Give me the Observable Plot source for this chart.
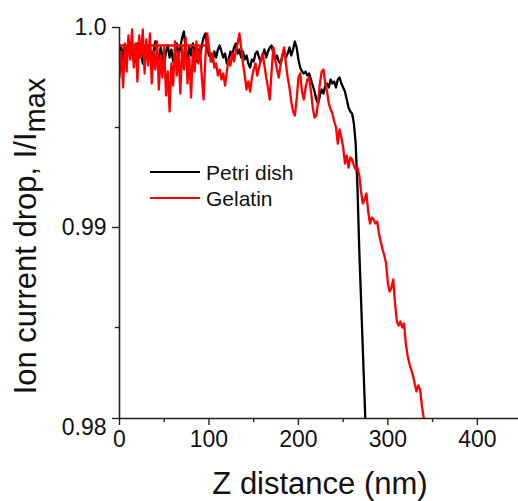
<!DOCTYPE html>
<html><head><meta charset="utf-8">
<script src="https://cdn.jsdelivr.net/npm/d3@7"></script>
<script src="https://cdn.jsdelivr.net/npm/@observablehq/plot@0.6"></script>
<style>body{margin:0;background:#fff} svg{font-family:"Liberation Sans",Arial,sans-serif}</style>
</head><body><div id="chart"></div>
<script>
// Petri dish (black)
const petriX = [0,2,4,6,8,10,12,14,16,18,20,22,24,26,28,30,32,34,36,38,40,42,44,46,48,50,52,54,56,58,60,62,64,66,68,70,72,74,76,78,80,82,84,86,88,90,92,94,96,98,100,102,104,106,108,110,112,114,116,118,120,122,124,126,128,130,132,134,136,138,140,142,144,146,148,150,152,154,156,158,160,162,164,166,168,170,172,174,176,178,180,182,184,186,188,190,192,194,196,198,200,202,204,206,208,210,212,214,216,218,220,222,224,226,228,230,232,234,236,238,240,242,244,246,248,250,252,254,256,258,260,262,264,266,268,270,272,274,276];
const petriY = [0.9986,0.9990,0.9984,0.9991,0.9987,0.9993,0.9986,0.9989,0.9983,0.9990,
0.9992,0.9985,0.9988,0.9982,0.9989,0.9991,0.9986,0.9990,0.9984,0.9988,
0.9993,0.9987,0.9984,0.9990,0.9986,0.9982,0.9988,0.9991,0.9985,0.9989,
0.9983,0.9987,0.9992,0.9986,0.9990,0.9995,0.9998,0.9989,0.9984,0.9990,
0.9986,0.9992,0.9987,0.9983,0.9989,0.9985,0.9991,0.9995,0.9997,0.9990,
0.9986,0.9987,0.9983,0.9988,0.9985,0.9989,0.9991,0.9988,0.9985,0.9987,
0.9982,0.9984,0.9988,0.9986,0.9990,0.9992,0.9987,0.9989,0.9985,0.9988,
0.9984,0.9986,0.9982,0.9980,0.9984,0.9983,0.9987,0.9988,0.9985,0.9983,
0.9986,0.9989,0.9985,0.9988,0.9990,0.9991,0.9987,0.9984,0.9986,0.9983,
0.9982,0.9986,0.9988,0.9985,0.9987,0.9990,0.9986,0.9989,0.9993,0.9990,
0.9984,0.9980,0.9978,0.9977,0.9978,0.9976,0.9977,0.9974,0.9971,0.9968,
0.9964,0.9962,0.9966,0.9969,0.9967,0.9971,0.9972,0.9970,0.9974,0.9972,
0.9973,0.9970,0.9974,0.9975,0.9972,0.9970,0.9968,0.9964,0.9960,0.9958,
0.9957,0.9952,0.9942,0.9920,0.9889,0.9864,0.9839,0.9814,0.9789];

// Gelatin (red)
const gelatinX = [0,2,4,6,8,10,12,14,16,18,20,22,24,26,28,30,32,34,36,38,40,42,44,46,48,50,52,54,56,58,60,62,64,66,68,70,72,74,76,78,80,82,84,86,88,90,92,94,96,98,100,102,104,106,108,110,112,114,116,118,120,122,124,126,128,130,132,134,136,138,140,142,144,146,148,150,152,154,156,158,160,162,164,166,168,170,172,174,176,178,180,182,184,186,188,190,192,194,196,198,200,202,204,206,208,210,212,214,216,218,220,222,224,226,228,230,232,234,236,238,240,242,244,246,248,250,252,254,256,258,260,262,264,266,268,270,272,274,276,278,280,282,284,286,288,290,292,294,296,298,300,302,304,306,308,310,312,314,316,318,320,322,324,326,328,330,332,334,336,338,340,342,344];
const gelatinY = [0.9975,0.9988,0.9970,0.9992,0.9978,0.9996,0.9984,0.9999,0.9980,0.9992,
0.9973,0.9996,0.9985,0.9999,0.9977,0.9994,0.9981,0.9997,0.9972,0.9988,
0.9979,0.9993,0.9969,0.9986,0.9975,0.9990,0.9966,0.9978,0.9958,0.9982,
0.9971,0.9993,0.9976,0.9988,0.9967,0.9990,0.9979,0.9995,0.9972,0.9985,
0.9965,0.9989,0.9978,0.9993,0.9982,0.9990,0.9975,0.9964,0.9985,0.9997,
0.9990,0.9983,0.9987,0.9980,0.9982,0.9976,0.9979,0.9974,0.9977,0.9971,
0.9978,0.9984,0.9981,0.9987,0.9983,0.9988,0.9992,0.9997,0.9990,0.9982,
0.9976,0.9969,0.9973,0.9968,0.9975,0.9979,0.9982,0.9976,0.9980,0.9984,
0.9987,0.9981,0.9975,0.9970,0.9964,0.9978,0.9990,0.9984,0.9979,0.9975,
0.9981,0.9986,0.9990,0.9982,0.9975,0.9970,0.9963,0.9958,0.9956,0.9964,
0.9975,0.9977,0.9968,0.9964,0.9970,0.9974,0.9975,0.9968,0.9960,0.9955,
0.9956,0.9963,0.9972,0.9978,0.9979,0.9972,0.9968,0.9962,0.9959,0.9957,
0.9953,0.9950,0.9942,0.9949,0.9945,0.9940,0.9932,0.9936,0.9930,0.9935,
0.9934,0.9931,0.9929,0.9930,0.9926,0.9918,0.9912,0.9914,0.9917,0.9908,
0.9902,0.9905,0.9904,0.9902,0.9903,0.9897,0.9893,0.9889,0.9886,0.9882,
0.9872,0.9868,0.9870,0.9874,0.9862,0.9853,0.9851,0.9853,0.9850,0.9852,
0.9842,0.9836,0.9832,0.9829,0.9826,0.9822,0.9818,0.9821,0.9819,0.9811,
0.9805,0.9800,0.9795];
// flat red segment at the start of the gelatin trace
const gelatinFlatX = [0, 95];
const gelatinFlatY = [0.9991, 0.9991];

const yTickLabels = [1.0, 0.99, 0.98];
const yMinor = [0.995, 0.985];
const xTicks = [0, 100, 200, 300, 400];
const xMinor = [50, 150, 250, 350];
const seriesNames = ["Petri dish", "Gelatin"];
const seriesColors = ["#000000", "#ff0000"];

const petri = petriX.map((x, i) => ({x, y: petriY[i]}));
const gelatin = gelatinX.map((x, i) => ({x, y: gelatinY[i]}));
const gelatinFlat = gelatinFlatX.map((x, i) => ({x, y: gelatinFlatY[i]}));

const W = 518, H = 501, yMin = 0.98045;
const axisColor = "#222";

const plot = Plot.plot({
  width: W, height: H,
  marginLeft: 119, marginRight: 0, marginTop: 27, marginBottom: 83,
  style: {fontFamily: '"Liberation Sans", Arial, sans-serif', fontSize: "23px", color: "#111", background: "#fff", overflow: "visible"},
  x: {domain: [0, 446], label: null},
  y: {domain: [yMin, 1.0], label: null},
  marks: [
    Plot.line(petri, {x: "x", y: "y", stroke: seriesColors[0], strokeWidth: 2.3, clip: true}),
    Plot.line(gelatinFlat, {x: "x", y: "y", stroke: seriesColors[1], strokeWidth: 2.3, clip: true}),
    Plot.line(gelatin, {x: "x", y: "y", stroke: seriesColors[1], strokeWidth: 2.3, clip: true}),
    Plot.ruleX([0], {stroke: axisColor, strokeWidth: 1.6}),
    Plot.ruleY([yMin], {stroke: axisColor, strokeWidth: 1.6}),
    Plot.axisY({ticks: [1.0, 0.99, yMin], tickSize: 7, tickFormat: () => "", label: null, stroke: axisColor, strokeWidth: 1.4}),
    Plot.axisY({ticks: yMinor, tickSize: 4, tickFormat: () => "", label: null, stroke: axisColor, strokeWidth: 1.4}),
    Plot.axisY({ticks: yTickLabels, tickSize: 0, tickPadding: 13, fontSize: 23, tickFormat: d => d === 1 ? "1.0" : d.toFixed(2), label: null}),
    Plot.axisX({ticks: xTicks, tickSize: 7, tickPadding: 5, fontSize: 23, tickFormat: d => String(d), label: null, stroke: axisColor, strokeWidth: 1.4}),
    Plot.axisX({ticks: xMinor, tickSize: 4, tickFormat: () => "", label: null, stroke: axisColor, strokeWidth: 1.4})
  ]
});

const svg = d3.select(plot);

// axis titles
svg.append("text")
  .attr("x", 320).attr("y", 494).attr("text-anchor", "middle")
  .style("font-size", "31px").attr("fill", "#111")
  .text("Z distance (nm)");
const yt = svg.append("text")
  .attr("transform", "translate(36,236) rotate(-90)")
  .attr("text-anchor", "middle").style("font-size", "31px").attr("fill", "#111");
yt.append("tspan").text("Ion current drop, I/I");
yt.append("tspan").attr("dy", 9).style("font-size", "29px").text("max");

// legend
const legendY = [172, 198];
seriesNames.forEach((name, i) => {
  svg.append("line").attr("x1", 150).attr("x2", 200)
    .attr("y1", legendY[i]).attr("y2", legendY[i])
    .attr("stroke", seriesColors[i]).attr("stroke-width", 2);
  svg.append("text").attr("x", 206).attr("y", legendY[i] + 7.5)
    .attr("text-anchor", "start")
    .style("font-size", "21px").attr("fill", "#111").text(name);
});

document.getElementById("chart").appendChild(plot);
</script>
</body></html>
